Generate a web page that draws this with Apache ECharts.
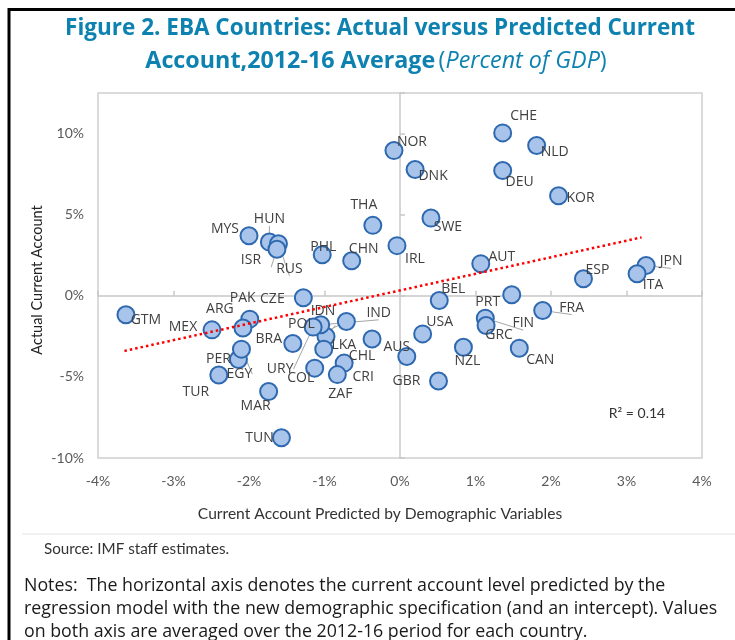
<!DOCTYPE html>
<html>
<head>
<meta charset="utf-8">
<script src="https://cdn.jsdelivr.net/npm/echarts@6/dist/echarts.min.js"></script>
<style>
  html, body { margin: 0; padding: 0; background: #fff; }
  #chart { width: 735px; height: 640px; }
</style>
</head>
<body>
<div id="chart"></div>
<script>
// country codes, predicted CA (x) and actual CA (y), percent of GDP
var countries = ['NOR', 'DNK', 'CHE', 'NLD', 'DEU', 'KOR', 'THA', 'SWE', 'MYS', 'HUN',
  'RUS', 'ISR', 'PHL', 'CHN', 'IRL', 'AUT', 'ESP', 'JPN', 'ITA', 'GTM',
  'MEX', 'PAK', 'ARG', 'CZE', 'IDN', 'IND', 'URY', 'POL', 'BRA', 'LKA',
  'CHL', 'PER', 'EGY', 'TUR', 'MAR', 'TUN', 'COL', 'CRI', 'ZAF', 'AUS',
  'GBR', 'BEL', 'PRT', 'USA', 'FIN', 'GRC', 'NZL', 'CAN', 'FRA']
var predicted = [-0.08, 0.20, 1.36, 1.81, 1.36, 2.10, -0.36, 0.41, -2.00, -1.73,
  -1.61, -1.63, -1.03, -0.64, -0.04, 1.07, 2.43, 3.26, 3.14, -3.63,
  -2.49, -1.99, -2.08, -1.28, -0.98, -1.05, -1.15, -0.71, -1.42, -1.01,
  -0.37, -2.14, -2.10, -2.40, -1.74, -1.57, -1.13, -0.74, -0.83, 0.09,
  0.51, 0.52, 1.48, 0.30, 1.13, 1.14, 0.84, 1.58, 1.89]
var actual = [8.95, 7.78, 10.04, 9.26, 7.72, 6.17, 4.34, 4.79, 3.70, 3.31,
  3.21, 2.87, 2.53, 2.16, 3.09, 1.98, 1.05, 1.87, 1.36, -1.17,
  -2.10, -1.44, -1.99, -0.12, -2.51, -1.79, -1.93, -1.59, -2.94, -3.29,
  -2.66, -3.93, -3.29, -4.88, -5.90, -8.75, -4.46, -4.15, -4.86, -3.74,
  -5.25, -0.29, 0.06, -2.35, -1.38, -1.83, -3.17, -3.23, -0.91]
// fitted regression line end points
var trendX = [-3.65, 3.2]
var trendY = [-3.4, 3.6]
var xTicks = [-4, -3, -2, -1, 0, 1, 2, 3, 4]
var yTicks = [-10, -5, 0, 5, 10]
var rSquared = '0.14'

// where each data label sits relative to its marker (px)
var labelShift = {
  NOR: [18, -9], DNK: [18, 6], CHE: [21, -17], NLD: [18, 6], DEU: [17, 11],
  KOR: [22, 2], THA: [-9, -20], SWE: [17, 9], MYS: [-24, -7], HUN: [0, -23],
  RUS: [11, 25], ISR: [-26, 11], PHL: [1, -8], CHN: [12, -12], IRL: [18, 13],
  AUT: [21, -7], ESP: [14, -9], JPN: [25, -4], ITA: [16, 11], GTM: [20, 5],
  MEX: [-29, -3], PAK: [-7, -21], ARG: [-23, -19], CZE: [-31, 1], IDN: [-3, -25],
  IND: [58, -12], URY: [-33, 42], POL: [-45, 2], BRA: [-24, -4], LKA: [20, -4],
  CHL: [-10, 17], PER: [-20, -1], EGY: [-2, 25], TUR: [-23, 17], MAR: [-13, 15],
  TUN: [-22, 0], COL: [-14, 10], CRI: [19, 14], ZAF: [3, 19], AUS: [-10, -9],
  GBR: [-32, 0], BEL: [14, -11], PRT: [-24, 7], USA: [17, -12], FIN: [38, 5],
  GRC: [13, 10], NZL: [4, 14], CAN: [21, 12], FRA: [29, -3]
}
var leaders = ['HUN', 'ISR', 'RUS', 'THA', 'MEX', 'PAK', 'EGY', 'IDN', 'IND', 'POL', 'URY', 'FIN', 'FRA', 'JPN']

var chart = echarts.init(document.getElementById('chart'))

var points = countries.map(function(c, i) {
  return {
    name: c,
    value: [predicted[i], actual[i]],
    label: { offset: labelShift[c] },
    labelLine: { show: leaders.indexOf(c) >= 0 }
  }
})

var labelFont = 'Lato, "Liberation Sans", sans-serif'
var segoe = '"Open Sans", "Noto Sans", sans-serif'
var titleColor = '#0d82b0'

var option = {
  animation: false,
  backgroundColor: '#fff',
  grid: {
    left: 98, right: 33, top: 93, bottom: 182,
    show: true, borderColor: '#d0d0d0', borderWidth: 1.5
  },
  xAxis: [{
    type: 'value', min: xTicks[0], max: xTicks[xTicks.length - 1], interval: 1,
    axisLine: { show: false, onZero: false },
    axisTick: { show: false },
    splitLine: { show: false },
    axisLabel: {
      margin: 16, color: '#595959', fontFamily: labelFont, fontSize: 14,
      formatter: function(v) { return v + '%' }
    }
  }, {
    type: 'value', min: xTicks[0], max: xTicks[xTicks.length - 1], interval: 1,
    axisLine: { show: true, onZero: true, onZeroAxisIndex: 0, lineStyle: { color: '#c8c8c8', width: 1.5 } },
    axisTick: { show: true, length: 5, lineStyle: { color: '#c8c8c8', width: 1.5 } },
    axisLabel: { show: false },
    splitLine: { show: false }
  }],
  yAxis: [{
    type: 'value', min: yTicks[0], max: 12.5, interval: 5,
    axisLine: { show: false, onZero: false },
    axisTick: { show: false },
    splitLine: { show: false },
    axisLabel: {
      margin: 14, color: '#595959', fontFamily: labelFont, fontSize: 14,
      formatter: function(v) { return yTicks.indexOf(v) >= 0 ? v + '%' : '' }
    }
  }, {
    type: 'value', min: yTicks[0], max: 12.5, interval: 5,
    axisLine: { show: true, onZero: true, onZeroAxisIndex: 0, lineStyle: { color: '#c8c8c8', width: 1.5 } },
    axisTick: { show: true, length: 5, lineStyle: { color: '#c8c8c8', width: 1.5 } },
    axisLabel: { show: false },
    splitLine: { show: false }
  }],
  series: [{
    type: 'scatter',
    xAxisIndex: 0, yAxisIndex: 0,
    symbolSize: 17,
    itemStyle: { color: '#a9c4ea', borderColor: '#2e69b0', borderWidth: 2, opacity: 1 },
    label: {
      show: true, position: 'inside', formatter: '{b}',
      color: '#404040', fontFamily: segoe, fontSize: 14
    },
    labelLine: { show: false, lineStyle: { color: '#a6a6a6', width: 1 } },
    emphasis: { disabled: true },
    data: points
  }, {
    type: 'line',
    xAxisIndex: 0, yAxisIndex: 0,
    z: 3,
    symbol: 'none',
    lineStyle: { color: '#ff0000', width: 2.5, type: [2.5, 3] },
    data: trendX.map(function(x, i) { return [x, trendY[i]] })
  }],
  graphic: [
    // black frame on top and left
    { type: 'line', shape: { x1: 8, y1: 9.5, x2: 735, y2: 9.5 }, style: { stroke: '#000', lineWidth: 3 } },
    { type: 'line', shape: { x1: 9, y1: 8, x2: 9, y2: 640 }, style: { stroke: '#000', lineWidth: 3 } },
    { type: 'line', shape: { x1: 22, y1: 534, x2: 735, y2: 534 }, style: { stroke: '#ececec', lineWidth: 1.5 } },
    {
      type: 'text', x: 380, y: 29,
      style: {
        text: 'Figure 2. EBA Countries: Actual versus Predicted Current',
        font: '700 22.5px ' + segoe, fill: titleColor, textAlign: 'center', textVerticalAlign: 'middle'
      }
    },
    {
      type: 'text', x: 376, y: 61,
      style: {
        text: '{b|Account,2012-16 Average} {n|(}{i|Percent of GDP}{n|)}',
        textAlign: 'center', textVerticalAlign: 'middle',
        rich: {
          b: { font: '700 23.3px ' + segoe, fill: titleColor },
          n: { font: '400 23.3px ' + segoe, fill: titleColor },
          i: { font: 'italic 400 23.3px ' + segoe, fill: titleColor }
        }
      }
    },
    {
      type: 'text', x: 37, y: 280, rotation: Math.PI / 2,
      style: {
        text: 'Actual Current Account', font: '14.5px ' + labelFont, fill: '#222',
        textAlign: 'center', textVerticalAlign: 'middle'
      }
    },
    {
      type: 'text', x: 380, y: 514,
      style: {
        text: 'Current Account Predicted by Demographic Variables', font: '15.6px ' + labelFont, fill: '#333',
        textAlign: 'center', textVerticalAlign: 'middle'
      }
    },
    {
      type: 'text', x: 637, y: 413,
      style: {
        text: 'R\u00b2 = ' + rSquared, font: '14px ' + labelFont, fill: '#333',
        textAlign: 'center', textVerticalAlign: 'middle'
      }
    },
    {
      type: 'text', x: 44, y: 549,
      style: { text: 'Source: IMF staff estimates.', font: '15.2px ' + labelFont, fill: '#333', textVerticalAlign: 'middle' }
    },
    {
      type: 'text', x: 24, y: 586,
      style: {
        text: 'Notes:  The horizontal axis denotes the current account level predicted by the',
        font: '17.8px ' + segoe, fill: '#1a1a1a', textVerticalAlign: 'middle'
      }
    },
    {
      type: 'text', x: 24, y: 609,
      style: {
        text: 'regression model with the new demographic specification (and an intercept). Values',
        font: '17.8px ' + segoe, fill: '#1a1a1a', textVerticalAlign: 'middle'
      }
    },
    {
      type: 'text', x: 24, y: 632,
      style: {
        text: 'on both axis are averaged over the 2012-16 period for each country.',
        font: '17.8px ' + segoe, fill: '#1a1a1a', textVerticalAlign: 'middle'
      }
    }
  ]
}
chart.setOption(option)
</script>
</body>
</html>
